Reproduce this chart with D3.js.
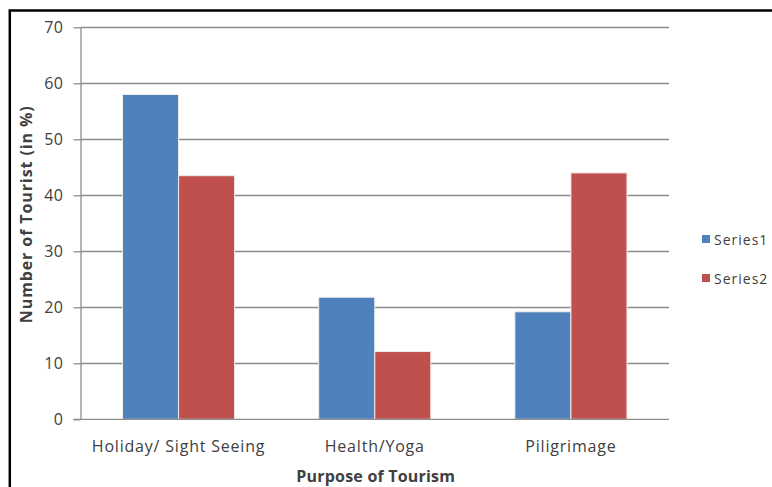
<!DOCTYPE html>
<html>
<head>
<meta charset="utf-8">
<script src="https://cdn.jsdelivr.net/npm/d3@7"></script>
<style>
  html, body { margin: 0; padding: 0; background: #fff; }
  svg { display: block; }
  text { font-family: "Open Sans", Lato, sans-serif; fill: #404040; }
</style>
</head>
<body>
<svg id="chart" width="772" height="487"></svg>
<script>
// Survey data: purpose of tourism, share of tourists (%)
const categories = ["Holiday/ Sight Seeing", "Health/Yoga", "Piligrimage"];
const seriesNames = ["Series1", "Series2"];
const series1 = [58, 21.8, 19.2];
const series2 = [43.5, 12.1, 44];
const yTicks = [0, 10, 20, 30, 40, 50, 60, 70];
const colors = ["#4F81BD", "#C0504D"];

const svg = d3.select("#chart");
const W = 772, H = 487;

// outer frame (only the top and left edges fall inside the page)
svg.append("rect")
  .attr("x", 9.8).attr("y", 10.5)
  .attr("width", W + 20).attr("height", H + 20)
  .attr("fill", "none").attr("stroke", "#000").attr("stroke-width", 2.5);

const plot = { left: 80.5, right: 669, top: 27.3, bottom: 419.3 };

// each category band holds 2 bars plus 1.5 bar widths of gap
const x0 = d3.scaleBand()
  .domain(categories)
  .range([plot.left, plot.right])
  .paddingInner(0).paddingOuter(0);
const band = x0.bandwidth();
const barW = band / 3.5;

const y = d3.scaleLinear().domain([0, 70]).range([plot.bottom, plot.top]);

// horizontal gridlines
svg.append("g")
  .selectAll("line")
  .data(yTicks.filter(d => d > 0))
  .join("line")
  .attr("x1", plot.left).attr("x2", plot.right)
  .attr("y1", d => Math.round(y(d)) + 0.5).attr("y2", d => Math.round(y(d)) + 0.5)
  .attr("stroke", "#8c8c8c").attr("stroke-width", 1.3);

// y axis
const yAxis = d3.axisLeft(y).tickValues(yTicks).tickSize(7).tickPadding(10).tickSizeOuter(0);
const gy = svg.append("g").attr("transform", `translate(${plot.left},0)`).call(yAxis);
gy.select(".domain").attr("stroke", "#8c8c8c").attr("stroke-width", 1.3);
gy.selectAll(".tick line").attr("stroke", "#8c8c8c").attr("stroke-width", 1.3);
gy.selectAll(".tick text")
  .style("font-family", "'Open Sans', sans-serif").style("font-size", "16px")
  .style("letter-spacing", "0.5px").attr("fill", "#404040");

// bars
const data = categories.map((c, i) => ({ cat: c, vals: [series1[i], series2[i]] }));
const groups = svg.append("g").selectAll("g")
  .data(data).join("g")
  .attr("transform", d => `translate(${x0(d.cat) + barW * 0.75},0)`);

groups.selectAll("rect")
  .data(d => d.vals.map((v, k) => ({ v, k })))
  .join("rect")
  .attr("x", d => d.k * barW)
  .attr("y", d => y(d.v))
  .attr("width", barW)
  .attr("height", d => y(0) - y(d.v))
  .attr("fill", d => colors[d.k])
  .attr("stroke", "#eeeeee").attr("stroke-width", 1);

// x axis line
svg.append("line")
  .attr("x1", plot.left - 7).attr("x2", plot.right)
  .attr("y1", plot.bottom).attr("y2", plot.bottom)
  .attr("stroke", "#8c8c8c").attr("stroke-width", 1.3);

// category labels
svg.append("g").selectAll("text")
  .data(categories).join("text")
  .attr("x", d => x0(d) + band / 2)
  .attr("y", 452)
  .attr("text-anchor", "middle")
  .style("font-size", "16px").style("letter-spacing", "0.8px")
  .text(d => d);

// axis titles
svg.append("text")
  .attr("x", (plot.left + plot.right) / 2 + 1)
  .attr("y", 482)
  .attr("text-anchor", "middle")
  .style("font-size", "16px").style("font-weight", "bold").style("letter-spacing", "0.2px")
  .text("Purpose of Tourism");

svg.append("text")
  .attr("transform", `translate(32,${(plot.top + plot.bottom) / 2 - 9}) rotate(-90)`)
  .attr("text-anchor", "middle")
  .style("font-size", "16px").style("font-weight", "bold").style("letter-spacing", "0.9px")
  .text("Number of Tourist  (in %)");

// legend
const legend = svg.append("g").selectAll("g")
  .data(seriesNames).join("g")
  .attr("transform", (d, i) => `translate(702,${240 + i * 39})`);
legend.append("rect")
  .attr("x", 0).attr("y", -5).attr("width", 8).attr("height", 8)
  .attr("fill", (d, i) => colors[i]);
legend.append("text")
  .attr("x", 12).attr("y", 5)
  .style("font-size", "14px").style("letter-spacing", "1px")
  .text(d => d);
</script>
</body>
</html>
